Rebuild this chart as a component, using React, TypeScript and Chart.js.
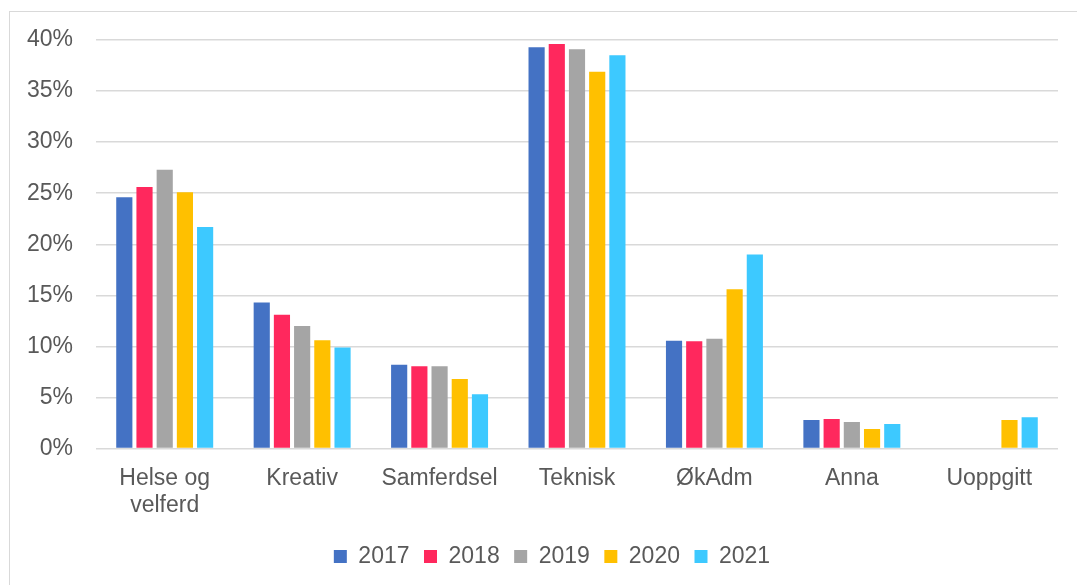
import React, { useEffect, useRef } from "react";
import { Chart, registerables } from "chart.js";

Chart.register(...registerables);

const categories: (string | string[])[] = [
  ["Helse og", "velferd"],
  "Kreativ",
  "Samferdsel",
  "Teknisk",
  "ØkAdm",
  "Anna",
  "Uoppgitt",
];

const years = ["2017", "2018", "2019", "2020", "2021"];
const colors = ["#4472C4", "#FF285D", "#A5A5A5", "#FFC000", "#3DC9FF"];

const v2017 = [24.6, 14.3, 8.2, 39.3, 10.55, 2.8, null];
const v2018 = [25.6, 13.1, 8.05, 39.6, 10.5, 2.9, null];
const v2019 = [27.3, 12.0, 8.05, 39.1, 10.75, 2.6, null];
const v2020 = [25.1, 10.6, 6.8, 36.9, 15.6, 1.9, 2.8];
const v2021 = [21.7, 9.9, 5.3, 38.5, 19.0, 2.4, 3.05];

const yTicks = [0, 5, 10, 15, 20, 25, 30, 35, 40];

const FONT = "'Liberation Sans', Arial, sans-serif";
const TEXT = "#595959";

const shiftLegend = {
  id: "shiftLegend",
  afterLayout(chart: any) {
    if (chart.legend) chart.legend.left += 46;
  },
};

export default function App() {
  const ref = useRef<HTMLCanvasElement | null>(null);

  useEffect(() => {
    if (!ref.current) return;
    const series = [v2017, v2018, v2019, v2020, v2021];
    const chart = new Chart(ref.current, {
      type: "bar",
      data: {
        labels: categories,
        datasets: years.map((y, i) => ({
          label: y,
          data: series[i],
          backgroundColor: colors[i],
          borderWidth: 0,
          categoryPercentage: 0.735,
          barPercentage: 0.8,
        })),
      },
      plugins: [shiftLegend],
      options: {
        responsive: false,
        animation: false,
        layout: { padding: { left: 0, right: 19, top: 40, bottom: 7 } },
        plugins: {
          tooltip: { enabled: false },
          legend: {
            position: "bottom",
            labels: {
              font: { family: FONT, size: 23 },
              color: TEXT,
              boxWidth: 13,
              boxHeight: 13,
              padding: 14.5,
            },
          },
        },
        scales: {
          x: {
            grid: { display: false },
            border: { display: false },
            ticks: {
              color: TEXT,
              font: { family: FONT, size: 23, lineHeight: 1.2 },
              padding: 8,
              maxRotation: 0,
              autoSkip: false,
            },
            afterFit: (s: any) => {
              s.height = 82;
            },
          },
          y: {
            min: 0,
            max: 40,
            afterBuildTicks: (s: any) => {
              s.ticks = yTicks.map((v) => ({ value: v }));
            },
            grid: { color: "#D9D9D9", lineWidth: 1.5, drawTicks: false },
            border: { display: false },
            ticks: {
              color: TEXT,
              font: { family: FONT, size: 23 },
              padding: 23,
              callback: (v: any) => `${v}%`,
            },
            afterFit: (s: any) => {
              s.width = 96;
            },
          },
        },
      },
    });
    return () => chart.destroy();
  }, []);

  return (
    <div
      style={{
        position: "fixed",
        left: 0,
        top: 0,
        width: 1077,
        height: 585,
        overflow: "hidden",
        background: "#fff",
      }}
    >
      <div
        style={{
          position: "absolute",
          left: 9,
          top: 11,
          width: 1200,
          height: 700,
          border: "1px solid #D9D9D9",
          pointerEvents: "none",
        }}
      />
      <canvas
        ref={ref}
        width={1077}
        height={585}
        style={{ position: "absolute", left: 0, top: 0 }}
      />
    </div>
  );
}
